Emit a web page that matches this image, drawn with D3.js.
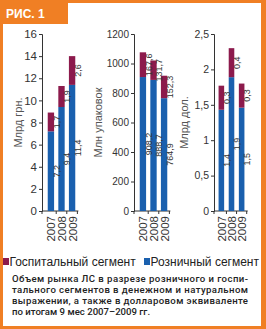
<!DOCTYPE html>
<html>
<head>
<meta charset="utf-8">
<script src="https://cdn.jsdelivr.net/npm/d3@7"></script>
<style>
  html, body { margin: 0; padding: 0; background: #fff; }
  svg { display: block; font-family: "Liberation Sans", Arial, sans-serif; }
</style>
</head>
<body>
<div id="chart"></div>
<script>
// data
const years = ["2007", "2008", "2009"];

const uahRetail = [7.2, 9.4, 11.4];
const uahHospital = [1.7, 1.9, 2.6];
const uahTicks = [0, 2, 4, 6, 8, 10, 12, 14, 16];

const packRetail = [908.2, 888.7, 764.9];
const packHospital = [167.6, 131.7, 152.3];
const packTicks = [0, 200, 400, 600, 800, 1000, 1200];

const usdRetail = [1.43, 1.89, 1.46];
const usdHospital = [0.34, 0.41, 0.34];
const usdTicks = [0, 0.5, 1, 1.5, 2, 2.5];

const legendLabels = ["Госпитальный сегмент", "Розничный сегмент"];
const captionLines = [
  "Объем рынка ЛС в разрезе розничного и госпи-",
  "тального сегментов в денежном и натуральном",
  "выражении, а также в долларовом эквиваленте",
  "по итогам 9 мес 2007–2009 гг."
];

const W = 266, H = 329;
const orange = "#f07f24", maroon = "#8c1a4c", blue = "#1a60ae";

const svg = d3.select("#chart").append("svg")
  .attr("width", W).attr("height", H);

// frame and tab
svg.append("rect").attr("x", 1.5).attr("y", 1.5).attr("width", W - 3.5).attr("height", H - 3)
  .attr("fill", "none").attr("stroke", orange).attr("stroke-width", 3);
svg.append("rect").attr("x", W - 5).attr("y", 0).attr("width", 5).attr("height", H).attr("fill", orange);
svg.append("rect").attr("x", 0).attr("y", 0).attr("width", 68).attr("height", 24).attr("fill", orange);
svg.append("text").attr("x", 6).attr("y", 17.5)
  .attr("fill", "#fff").attr("font-weight", "bold").attr("font-size", 12)
  .text("РИС. 1");

const fmt = v => d3.format(".1f")(v).replace(".", ",");

function panel(opt) {
  const g = svg.append("g");
  const y = d3.scaleLinear().domain(opt.domain).range([211, 34]);
  const x = d3.scaleBand().domain(years)
    .range([opt.axisX + opt.pad, opt.axisX + opt.pad + opt.span]).padding(opt.padding);

  // y axis
  const ax = g.append("g").attr("transform", `translate(${opt.axisX},0)`)
    .call(d3.axisLeft(y).tickValues(opt.ticks).tickSize(3).tickPadding(2)
      .tickFormat(opt.tickFmt));
  ax.select(".domain").attr("stroke", "#333");
  ax.selectAll(".tick line").attr("stroke", "#333");
  ax.selectAll("text").attr("fill", "#333").attr("font-size", opt.tickSize)
    .attr("font-family", "'Liberation Sans', Arial, sans-serif");

  // x axis
  const x0 = opt.axisX, x1 = x(years[2]) + x.bandwidth() + x.step() * x.padding() / 2 + 1;
  g.append("line").attr("x1", x0).attr("x2", x1).attr("y1", y(0)).attr("y2", y(0))
    .attr("stroke", "#333");
  const bounds = [x0].concat(years.map(d => x(d) + x.bandwidth() + x.step() * x.padding() / 2));
  g.selectAll(".xt").data(bounds).join("line")
    .attr("x1", d => d).attr("x2", d => d).attr("y1", y(0)).attr("y2", y(0) + 3)
    .attr("stroke", "#333");
  g.selectAll(".yr").data(years).join("text")
    .attr("transform", d => `translate(${x(d) + x.bandwidth() / 2 + 4.5},${y(0) + 5}) rotate(-90)`)
    .attr("text-anchor", "end").attr("font-size", 11.5).attr("fill", "#333")
    .text(d => d);

  // bars
  const rows = years.map((d, i) => ({year: d, r: opt.retail[i], h: opt.hospital[i]}));
  g.selectAll(".br").data(rows).join("rect")
    .attr("x", d => x(d.year)).attr("width", x.bandwidth())
    .attr("y", d => y(d.r)).attr("height", d => y(0) - y(d.r)).attr("fill", blue);
  g.selectAll(".bh").data(rows).join("rect")
    .attr("x", d => x(d.year)).attr("width", x.bandwidth())
    .attr("y", d => y(d.r + d.h)).attr("height", d => y(d.r) - y(d.r + d.h)).attr("fill", maroon);

  // value labels
  const lab = (d, v0, v1) => `translate(${x(d.year) + x.bandwidth() + 5.5},${(y(v0) + y(v1)) / 2}) rotate(-90)`;
  g.selectAll(".lr").data(rows).join("text")
    .attr("transform", d => lab(d, 0, d.r))
    .attr("text-anchor", "middle").attr("font-size", 9).attr("fill", "#333")
    .text(d => opt.valFmt(d.r));
  g.selectAll(".lh").data(rows).join("text")
    .attr("transform", d => lab(d, d.r, d.r + d.h))
    .attr("text-anchor", "middle").attr("font-size", 9).attr("fill", "#333")
    .text(d => opt.valFmt(d.h));

  // y title
  g.append("text")
    .attr("transform", `translate(${opt.titleX},${(y(opt.domain[0]) + y(opt.domain[1])) / 2}) rotate(-90)`)
    .attr("text-anchor", "middle").attr("font-size", 11).attr("fill", "#555")
    .text(opt.title);
}

panel({axisX: 42, pad: 1.5, span: 36, padding: 0.4, domain: [0, 16], ticks: uahTicks,
  tickFmt: d3.format("d"), tickSize: 11.5, retail: uahRetail, hospital: uahHospital,
  valFmt: fmt, title: "Млрд грн.", titleX: 22});

panel({axisX: 134, pad: 1.5, span: 36, padding: 0.4, domain: [0, 1200], ticks: packTicks,
  tickFmt: d3.format("d"), tickSize: 10, retail: packRetail, hospital: packHospital,
  valFmt: fmt, title: "Млн упаковок", titleX: 102});

panel({axisX: 214, pad: 0, span: 35, padding: 0.45, domain: [0, 2.5], ticks: usdTicks,
  tickFmt: d => String(d).replace(".", ","), tickSize: 10.5, retail: usdRetail, hospital: usdHospital,
  valFmt: fmt, title: "Млрд дол.", titleX: 188});

// legend
const legend = svg.append("g");
const legX = [3, 144];
[maroon, blue].forEach((c, i) => {
  legend.append("rect").attr("x", legX[i]).attr("y", 258).attr("width", 6).attr("height", 7).attr("fill", c);
  legend.append("text").attr("x", legX[i] + 6.5).attr("y", 265.5)
    .attr("font-size", 12).attr("fill", "#222").text(legendLabels[i]);
});

// caption
svg.append("g").selectAll("text").data(captionLines).join("text")
  .attr("x", 12).attr("y", (d, i) => 282 + i * 11)
  .attr("font-family", "Roboto, 'Open Sans', sans-serif")
  .attr("font-weight", 500).attr("font-size", 9.6).attr("fill", "#222")
  .attr("textLength", (d, i) => i < 3 ? 236 : null)
  .attr("lengthAdjust", "spacing")
  .text(d => d);
</script>
</body>
</html>
